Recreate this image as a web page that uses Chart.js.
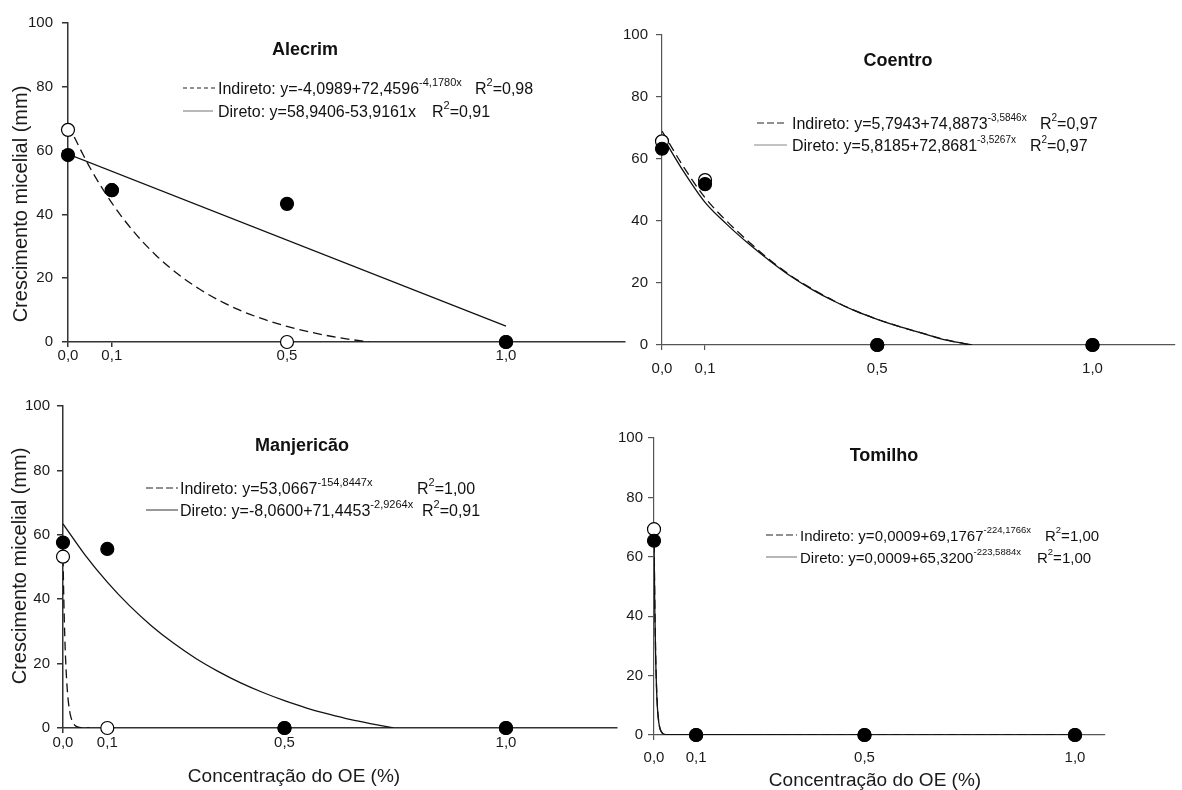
<!DOCTYPE html>
<html>
<head>
<meta charset="utf-8">
<script src="https://cdn.jsdelivr.net/npm/chart.js@4.4.1/dist/chart.umd.min.js"></script>
<style>
body { margin: 0; background: #fff; }
#wrap { position: relative; width: 1182px; height: 790px; overflow: hidden; background: #fff; }
canvas { position: absolute; }
</style>
</head>
<body>
<div id="wrap">
  <canvas id="alecrim"></canvas>
  <canvas id="coentro"></canvas>
  <canvas id="manjericao"></canvas>
  <canvas id="tomilho"></canvas>
</div>
<script>
// Concentrations (%) and axis ticks
const obsX = [0, 0.1, 0.5, 1.0];
const xTicks = [0, 0.1, 0.5, 1.0];
const yTicks = [0, 20, 40, 60, 80, 100];

// Observed means (mm) - filled = Direto, open = Indireto
const alecrimDireto = [58.6, 47.6, 43.3, 0];
const alecrimIndireto = [66.5, 47.6, 0, 0];
const coentroDireto = [63.3, 51.9, 0, 0];
const coentroIndireto = [65.7, 53.2, 0, 0];
const manjDireto = [57.6, 55.6, 0, 0];
const manjIndireto = [53.2, 0, 0, 0];
const tomilhoDireto = [65.4, 0, 0, 0];
const tomilhoIndireto = [69.3, 0, 0, 0];

// Fitted curves
const alecrimIndCurveX = [0, 0.05, 0.1, 0.15, 0.2, 0.25, 0.3, 0.35, 0.4, 0.45, 0.5, 0.55, 0.6, 0.65, 0.687];
const alecrimIndCurveY = [68.2, 54.7, 43.6, 34.6, 27.3, 21.4, 16.6, 12.7, 9.5, 7.0, 4.9, 3.2, 1.8, 0.7, 0];
const alecrimDirCurveX = [0, 1.0];
const alecrimDirCurveY = [58.9, 5.0];

const coentroCurveX = [0, 0.05, 0.1, 0.15, 0.2, 0.25, 0.3, 0.35, 0.4, 0.45, 0.5, 0.55, 0.6, 0.65, 0.7, 0.72];
const coentroIndCurveY = [69, 57.5, 47.5, 40, 33.5, 27.5, 22.3, 18, 14.2, 11, 8.3, 6, 4, 2, 0.5, 0];
const coentroDirCurveY = [67.5, 56, 46, 39, 32.8, 27.2, 22.1, 17.8, 14.1, 10.9, 8.3, 6, 4, 1.9, 0.5, 0];

const manjDirCurveX = [0, 0.05, 0.1, 0.15, 0.2, 0.25, 0.3, 0.35, 0.4, 0.45, 0.5, 0.55, 0.6, 0.65, 0.7, 0.746];
const manjDirCurveY = [63.4, 53.7, 45.3, 38.0, 31.7, 26.3, 21.6, 17.6, 14.1, 11.1, 8.5, 6.2, 4.3, 2.6, 1.2, 0];
const manjIndCurveX = [0, 0.002, 0.004, 0.006, 0.008, 0.01, 0.013, 0.016, 0.02, 0.025, 0.03, 0.04, 0.06];
const manjIndCurveY = [53, 39, 28.5, 21, 15.4, 11.3, 7.1, 4.5, 2.4, 1.1, 0.5, 0.1, 0];

const tomilhoCurveX = [0, 0.002, 0.004, 0.006, 0.008, 0.01, 0.013, 0.016, 0.02, 0.025, 0.03, 0.5, 1.0];
const tomilhoIndCurveY = [69.2, 44, 27, 16.5, 10, 6.2, 3, 1.5, 0.6, 0.2, 0.1, 0, 0];
const tomilhoDirCurveY = [65.3, 41.6, 25.5, 15.6, 9.5, 5.8, 2.8, 1.4, 0.6, 0.2, 0.1, 0, 0];

const FONT = '"Liberation Sans", Arial, sans-serif';
const yTitle = 'Crescimento micelial (mm)';
const xTitle = 'Concentração do OE (%)';

function pts(xs, ys) {
    return xs.map((x, i) => ({ x: x, y: ys[i] }));
}

function curve(xs, ys, dashed) {
    return {
        data: pts(xs, ys),
        showLine: true,
        pointRadius: 0,
        borderColor: '#111',
        borderWidth: 1.3,
        borderDash: dashed ? [9, 5] : [],
        cubicInterpolationMode: 'monotone',
        order: dashed ? 3 : 2
    };
}

function obs(ys, filled) {
    return {
        data: pts(obsX, ys),
        showLine: false,
        pointRadius: 6.5,
        pointBackgroundColor: filled ? '#000' : '#fff',
        pointBorderColor: '#000',
        pointBorderWidth: 1.2,
        clip: false,
        order: filled ? 0 : 1
    };
}

// Draws panel title, equation legend and axis titles
const panelText = {
    id: 'panelText',
    afterDraw(chart, args, o) {
        const ctx = chart.ctx;
        const ox = o.ox, oy = o.oy;
        const fs = o.fs || 16, ss = o.ss || 11;
        ctx.save();
        ctx.fillStyle = '#111';
        ctx.font = 'bold 18px ' + FONT;
        ctx.textAlign = 'center';
        ctx.textBaseline = 'middle';
        ctx.fillText(o.title, o.titleX - ox, o.titleY - oy);

        o.legend.forEach(l => {
            const y = l.y - oy;
            ctx.beginPath();
            ctx.setLineDash(l.dash);
            ctx.strokeStyle = l.color;
            ctx.lineWidth = 1.2;
            ctx.moveTo(l.x0 - ox, y);
            ctx.lineTo(l.x1 - ox, y);
            ctx.stroke();
            ctx.setLineDash([]);

            ctx.textAlign = 'left';
            ctx.textBaseline = 'alphabetic';
            ctx.font = fs + 'px ' + FONT;
            let x = l.tx - ox;
            ctx.fillText(l.eq, x, y + 6);
            x += ctx.measureText(l.eq).width;
            if (l.sup) {
                ctx.font = ss + 'px ' + FONT;
                ctx.fillText(l.sup, x, y - 2);
            }
            ctx.font = fs + 'px ' + FONT;
            ctx.fillText('R', l.rx - ox, y + 6);
            const rw = ctx.measureText('R').width;
            ctx.font = ss + 'px ' + FONT;
            ctx.fillText('2', l.rx - ox + rw, y - 2);
            const sw = ctx.measureText('2').width;
            ctx.font = fs + 'px ' + FONT;
            ctx.fillText(l.r2, l.rx - ox + rw + sw, y + 6);
        });

        if (o.yTitle) {
            ctx.save();
            ctx.translate(o.yTitle[0] - ox, o.yTitle[1] - oy);
            ctx.rotate(-Math.PI / 2);
            ctx.font = '20px ' + FONT;
            ctx.fillStyle = '#1a1a1a';
            ctx.textAlign = 'center';
            ctx.textBaseline = 'middle';
            ctx.fillText(yTitle, 0, 0);
            ctx.restore();
        }
        if (o.xTitle) {
            ctx.font = '19px ' + FONT;
            ctx.fillStyle = '#1a1a1a';
            ctx.textAlign = 'center';
            ctx.textBaseline = 'middle';
            ctx.fillText(xTitle, o.xTitle[0] - ox, o.xTitle[1] - oy);
        }
        ctx.restore();
    }
};

function makePanel(id, box, area, xMax, datasets, text, style) {
    const cv = document.getElementById(id);
    cv.width = box.w;
    cv.height = box.h;
    cv.style.left = box.x + 'px';
    cv.style.top = box.y + 'px';
    text.ox = box.x;
    text.oy = box.y;
    const axis = { color: style.color, width: style.width };
    return new Chart(cv.getContext('2d'), {
        type: 'scatter',
        data: { datasets: datasets },
        options: {
            responsive: false,
            animation: false,
            devicePixelRatio: 1,
            events: [],
            layout: { padding: { left: 0, top: area.top - box.y, right: box.x + box.w - area.right, bottom: 0 } },
            plugins: { legend: { display: false }, tooltip: { enabled: false }, panelText: text },
            scales: {
                x: {
                    type: 'linear', min: 0, max: xMax,
                    afterBuildTicks: s => { s.ticks = xTicks.map(v => ({ value: v })); },
                    afterFit: s => { s.height = box.y + box.h - area.bottom; s.paddingLeft = 0; s.paddingRight = 0; },
                    grid: { drawOnChartArea: false, tickLength: 5, color: axis.color, lineWidth: axis.width },
                    border: axis,
                    ticks: {
                        padding: style.xPad, color: '#1a1a1a', font: { family: FONT, size: 15 },
                        maxRotation: 0, autoSkip: false,
                        callback: v => v.toFixed(1).replace('.', ',')
                    }
                },
                y: {
                    type: 'linear', min: 0, max: 100,
                    afterBuildTicks: s => { s.ticks = yTicks.map(v => ({ value: v })); },
                    afterFit: s => { s.width = area.left - box.x; s.paddingTop = 0; s.paddingBottom = 0; },
                    grid: { drawOnChartArea: false, tickLength: 6, color: axis.color, lineWidth: axis.width },
                    border: axis,
                    ticks: { padding: style.yPad, color: '#1a1a1a', font: { family: FONT, size: 15 }, callback: v => String(v) }
                }
            }
        },
        plugins: [panelText]
    });
}

makePanel('alecrim',
    { x: 0, y: 0, w: 640, h: 390 },
    { left: 68, top: 23, right: 625, bottom: 342 }, 1.2717,
    [obs(alecrimDireto, true), obs(alecrimIndireto, false),
     curve(alecrimDirCurveX, alecrimDirCurveY, false), curve(alecrimIndCurveX, alecrimIndCurveY, true)],
    {
        title: 'Alecrim', titleX: 305, titleY: 50,
        legend: [
            { y: 88, x0: 183, x1: 217, dash: [4, 3], color: '#222', tx: 218, eq: 'Indireto: y=-4,0989+72,4596', sup: '-4,1780x', rx: 475, r2: '=0,98' },
            { y: 111, x0: 183, x1: 213, dash: [], color: '#888', tx: 218, eq: 'Direto: y=58,9406-53,9161x', sup: '', rx: 432, r2: '=0,91' }
        ],
        yTitle: [21, 204]
    },
    { color: '#333', width: 1.5, xPad: 0, yPad: 9 });

makePanel('coentro',
    { x: 600, y: 0, w: 582, h: 390 },
    { left: 662, top: 35, right: 1182, bottom: 345 }, 1.19,
    [obs(coentroDireto, true), obs(coentroIndireto, false),
     curve(coentroCurveX, coentroDirCurveY, false), curve(coentroCurveX, coentroIndCurveY, true)],
    {
        title: 'Coentro', titleX: 898, titleY: 61,
        legend: [
            { y: 123, x0: 757, x1: 787, dash: [7, 3], color: '#222', tx: 792, eq: 'Indireto: y=5,7943+74,8873', sup: '-3,5846x', rx: 1040, r2: '=0,97' },
            { y: 145, x0: 754, x1: 787, dash: [], color: '#888', tx: 792, eq: 'Direto: y=5,8185+72,8681', sup: '-3,5267x', rx: 1030, r2: '=0,97' }
        ],
        ss: 10
    },
    { color: '#555', width: 1.2, xPad: 10, yPad: 8 });

makePanel('manjericao',
    { x: 0, y: 390, w: 640, h: 400 },
    { left: 63, top: 406, right: 617, bottom: 728 }, 1.2506,
    [obs(manjDireto, true), obs(manjIndireto, false),
     curve(manjDirCurveX, manjDirCurveY, false), curve(manjIndCurveX, manjIndCurveY, true)],
    {
        title: 'Manjericão', titleX: 302, titleY: 446,
        legend: [
            { y: 488, x0: 146, x1: 178, dash: [7, 3], color: '#222', tx: 180, eq: 'Indireto: y=53,0667', sup: '-154,8447x', rx: 417, r2: '=1,00' },
            { y: 510, x0: 146, x1: 178, dash: [], color: '#555', tx: 180, eq: 'Direto: y=-8,0600+71,4453', sup: '-2,9264x', rx: 422, r2: '=0,91' }
        ],
        yTitle: [20, 566],
        xTitle: [294, 777]
    },
    { color: '#333', width: 1.5, xPad: 1, yPad: 7 });

makePanel('tomilho',
    { x: 600, y: 390, w: 582, h: 400 },
    { left: 654, top: 438, right: 1105, bottom: 735 }, 1.0713,
    [obs(tomilhoDireto, true), obs(tomilhoIndireto, false),
     curve(tomilhoCurveX, tomilhoDirCurveY, false), curve(tomilhoCurveX, tomilhoIndCurveY, true)],
    {
        title: 'Tomilho', titleX: 884, titleY: 456,
        legend: [
            { y: 535, x0: 766, x1: 797, dash: [7, 3], color: '#222', tx: 800, eq: 'Indireto: y=0,0009+69,1767', sup: '-224,1766x', rx: 1045, r2: '=1,00' },
            { y: 557, x0: 766, x1: 797, dash: [], color: '#888', tx: 800, eq: 'Direto: y=0,0009+65,3200', sup: '-223,5884x', rx: 1037, r2: '=1,00' }
        ],
        xTitle: [875, 781],
        fs: 15, ss: 9.5
    },
    { color: '#555', width: 1.2, xPad: 9, yPad: 5 });
</script>
</body>
</html>
